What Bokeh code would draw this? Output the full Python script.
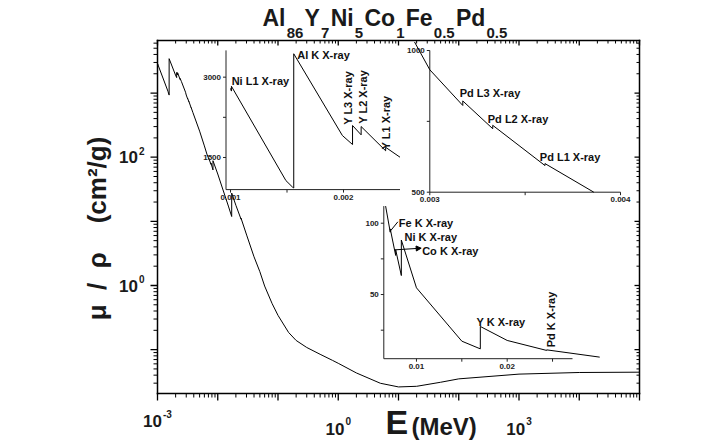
import numpy as np
from bokeh.plotting import figure
from bokeh.models import Range1d, LogScale, Arrow, NormalHead
from bokeh.core.properties import value
from bokeh.embed import file_html
from bokeh.resources import INLINE

# ---------------- data ----------------
energy_MeV = [
    0.0010, 0.0010081, 0.0010081, 0.00149, 0.00155, 0.0015596, 0.0015596,
    0.00199, 0.00208, 0.00208, 0.002156, 0.002156, 0.002373, 0.002373, 0.0025,
    0.00292, 0.0030, 0.003173, 0.003173, 0.00333, 0.00333, 0.003604, 0.003604, 0.00386,
    0.0050, 0.0060, 0.0066, 0.007112, 0.007112, 0.007709, 0.007709, 0.008333, 0.008333,
    0.010, 0.015, 0.01704, 0.01704, 0.020, 0.02435, 0.02435, 0.0302,
    0.040, 0.050, 0.060, 0.080, 0.10, 0.15, 0.20, 0.30, 0.50, 0.80, 1.0, 2.0, 5.0,
    10.0, 20.0, 50.0, 100.0, 1000.0, 10000.0, 100000.0]
mu_rho = [
    2790, 2740, 2830, 1069, 944, 930, 3437,
    1910, 1742, 2097, 1923, 2078, 1625, 1690, 1505,
    1030, 932, 806, 822, 724, 736, 594, 601, 500,
    255, 150, 112, 93.7, 96.0, 77.4, 81.4, 63.3, 88.2,
    54.7, 17.3, 11.9, 27.6, 17.8, 10.8, 11.2, 6.1,
    2.8, 1.64, 0.98, 0.52, 0.342, 0.185, 0.139, 0.108, 0.0846, 0.0681, 0.0612, 0.0433, 0.0299,
    0.0262, 0.0268, 0.031, 0.035, 0.0415, 0.044, 0.0445]

title_parts = ["Al", "86", "Y", "7", "Ni", "5", "Co", "1", "Fe", "0.5", "Pd", "0.5"]
x_label_main, x_label_unit = "E", "(MeV)"
NB = "\u00a0"
y_label = f"\u03bc{NB}{NB}/{NB}{NB}\u03c1{NB}{NB}{NB}{NB}(cm\u00b2/g)"

x_lim_main = (1e-3, 1e5)
y_lim_main = (0.0207, 6600)
x_major_ticks = [10.0 ** k for k in range(-3, 6)]
y_major_ticks = [10.0 ** k for k in range(-1, 4)]
x_minor_ticks = [m * 10.0 ** k for k in range(-3, 5) for m in range(2, 10)]
y_minor_ticks = [m * 10.0 ** k for k in range(-2, 4) for m in range(2, 10)
                 if y_lim_main[0] < m * 10.0 ** k < y_lim_main[1]]
x_tick_labels = [(1e-3, "-3"), (1e0, "0"), (1e3, "3")]
y_tick_labels = [(1e2, "2"), (1e0, "0")]

inset1_xlim, inset1_ylim = (0.00096, 0.0025), (900, 3500)
inset1_xticks, inset1_yticks = [0.001, 0.0015, 0.002], [1500, 2250, 3000]
inset1_xlabels, inset1_ylabels = {0.001: "0.001", 0.002: "0.002"}, {1500: "1500", 3000: "3000"}
inset1_window = (0.00096, 0.0025)

inset2_xlim, inset2_ylim = (0.003, 0.004), (500, 1000)
inset2_xticks, inset2_yticks = [0.003, 0.0035, 0.004], [500, 750, 1000]
inset2_xlabels, inset2_ylabels = {0.003: "0.003", 0.004: "0.004"}, {500: "500", 1000: "1000"}
inset2_window = (0.0029, 0.004)

inset3_xlim, inset3_ylim = (0.0064, 0.0272), (5, 112)
inset3_xticks, inset3_yticks = [0.01, 0.015, 0.02, 0.025], [25, 50, 75, 100]
inset3_xlabels, inset3_ylabels = {0.01: "0.01", 0.02: "0.02"}, {50: "50", 100: "100"}
inset3_window = (0.0064, 0.031)

inset1_notes = [("Ni L1 X-ray", 0.00101, 2850, 0), ("Al K X-ray", 0.00159, 3350, 0),
                ("Y L3 X-ray", 0.002075, 2110, 90), ("Y L2 X-ray", 0.002208, 2130, 90),
                ("Y L1 X-ray", 0.002407, 1650, 90)]
inset2_notes = [("Pd L3 X-ray", 0.003157, 836, 0), ("Pd L2 X-ray", 0.003304, 745, 0),
                ("Pd L1 X-ray", 0.003577, 611, 0)]
inset3_notes = [("Fe K X-ray", 0.00805, 97.7, 0), ("Ni K X-ray", 0.00868, 87.9, 0),
                ("Co K X-ray", 0.01063, 78.0, 0), ("Y K X-ray", 0.01662, 28.2, 0),
                ("Pd K X-ray", 0.02521, 13.0, 90)]

# ---------------- layout (reference page pixels, origin top-left) ----------------
FONT = "Liberation Sans"
W, H = 700, 440
BOX = (157, 639, 40, 393)          # main frame: left, right, top, bottom
MID = 0.35                          # baseline -> middle of text, in font sizes


def Y(py):                          # page y (down) -> canvas y (up)
    return H - py


def lin_range(lo, hi, plo, phi, c0, c1):
    s = (hi - lo) / (phi - plo)
    return (lo + (c0 - plo) * s, lo + (c1 - plo) * s)


def log_range(lo, hi, plo, phi, c0, c1):
    a, b = lin_range(np.log10(lo), np.log10(hi), plo, phi, c0, c1)
    return Range1d(10 ** a, 10 ** b)


p = figure(width=W, height=H, frame_width=W, frame_height=H, min_border=0,
           x_range=Range1d(0, W), y_range=Range1d(0, H),
           x_axis_type=None, y_axis_type=None, title=None,
           output_backend="svg", toolbar_location=None)
p.outline_line_color = None
p.background_fill_color = "white"
p.border_fill_color = "white"

p.extra_x_ranges = {"E": log_range(*x_lim_main, BOX[0], BOX[1], 0, W)}
p.extra_y_ranges = {"mu": log_range(*y_lim_main, Y(BOX[3]), Y(BOX[2]), 0, H)}
p.extra_x_scales = {"E": LogScale()}
p.extra_y_scales = {"mu": LogScale()}

inset_boxes = {
    "i1": (inset1_xlim, inset1_ylim, (225.5, 399.5), (189.1, 49.9)),
    "i2": (inset2_xlim, inset2_ylim, (429.3, 620.0), (191.7, 50.0)),
    "i3": (inset3_xlim, inset3_ylim, (383.3, 572.0), (358.2, 205.6)),
}
for name, (xl, yl, pxs, pys) in inset_boxes.items():
    p.extra_x_ranges[name + "x"] = Range1d(*lin_range(xl[0], xl[1], pxs[0], pxs[1], 0, W))
    p.extra_y_ranges[name + "y"] = Range1d(*lin_range(yl[0], yl[1], Y(pys[0]), Y(pys[1]), 0, H))

INK = "#1a1a1a"


def txt(x, y, t, size, align="left", baseline="middle", angle=0.0, bold=True,
        color=INK, **kw):
    p.text(x=x, y=y, text=t, angle=angle, text_align=align, text_baseline=baseline,
           text_font=value(FONT), text_font_size=f"{size}px",
           text_font_style="bold" if bold else "normal", text_color=color, **kw)


# ---------------- main frame and ticks ----------------
mk = dict(x_range_name="E", y_range_name="mu")
x0, x1 = x_lim_main
y0, y1 = y_lim_main
p.segment(x0=[x0, x0, x0, x1], y0=[y0, y1, y0, y0], x1=[x1, x1, x0, x1], y1=[y0, y1, y1, y1],
          line_color="black", line_width=1.5, line_cap="square", **mk)
for ticks, ln_out, ln_in, w in ((x_major_ticks, 7, 5, 1.3), (x_minor_ticks, 4, 3, 1)):
    n = len(ticks)
    p.ray(x=ticks, y=[y0] * n, length=ln_out, angle=-np.pi / 2, length_units="screen",
          line_color="black", line_width=w, **mk)
    p.ray(x=ticks, y=[y1] * n, length=ln_in, angle=-np.pi / 2, length_units="screen",
          line_color="black", line_width=w, **mk)
for ticks, ln_out, ln_in, w in ((y_major_ticks, 7, 5, 1.3), (y_minor_ticks, 4, 3, 1)):
    n = len(ticks)
    p.ray(x=[x0] * n, y=ticks, length=ln_out, angle=np.pi, length_units="screen",
          line_color="black", line_width=w, **mk)
    p.ray(x=[x1] * n, y=ticks, length=ln_in, angle=np.pi, length_units="screen",
          line_color="black", line_width=w, **mk)

# main tick labels: "10" + raised exponent (positions given as text baselines)
S10, SEX = 17, 10
for val, ex in x_tick_labels:
    base_py, exp_py = (426.5, 416.5) if val < 1e-2 else (434.5, 424.0)
    w10, wex = 1.112 * S10, (0.889 if ex.startswith("-") else 0.556) * SEX
    left = -(w10 + wex + 1) / 2
    txt([val], [Y(base_py - MID * S10)], ["10"], S10, align="right", x_offset=left + w10,
        x_range_name="E")
    txt([val], [Y(exp_py - MID * SEX)], [ex], SEX, align="left", x_offset=left + w10 + 1,
        x_range_name="E")
for val, ex in y_tick_labels:
    txt([137.5], [val], ["10"], S10, align="right", y_offset=6 - MID * S10,
        y_range_name="mu")
    txt([138.5], [val], [ex], SEX, align="left", y_offset=-3 - MID * SEX,
        y_range_name="mu")

# ---------------- main curve ----------------
E = np.array(energy_MeV)
M = np.array(mu_rho)
p.line(E, M, line_color="black", line_width=1, **mk)

# ---------------- insets ----------------
AX = "#222222"
SN = 11
inset_specs = {
    "i1": (inset1_xticks, inset1_yticks, inset1_xlabels, inset1_ylabels, inset1_window, inset1_notes),
    "i2": (inset2_xticks, inset2_yticks, inset2_xlabels, inset2_ylabels, inset2_window, inset2_notes),
    "i3": (inset3_xticks, inset3_yticks, inset3_xlabels, inset3_ylabels, inset3_window, inset3_notes),
}
for name, (xt, yt, xlab, ylab, win, notes) in inset_specs.items():
    xl, yl = inset_boxes[name][0], inset_boxes[name][1]
    kw = dict(x_range_name=name + "x", y_range_name=name + "y")
    p.segment(x0=[xl[0], xl[0]], y0=[yl[0], yl[0]], x1=[xl[1], xl[0]], y1=[yl[0], yl[1]],
              line_color=AX, line_width=1, **kw)
    p.ray(x=xt, y=[yl[0]] * len(xt), length=3, angle=-np.pi / 2, length_units="screen",
          line_color=AX, line_width=1, **kw)
    p.ray(x=[xl[0]] * len(yt), y=yt, length=3, angle=np.pi, length_units="screen",
          line_color=AX, line_width=1, **kw)
    txt(list(xlab.keys()), [yl[0]] * len(xlab), list(xlab.values()), 8,
        align="center", baseline="top", y_offset=5, color=AX, **kw)
    txt([xl[0]] * len(ylab), list(ylab.keys()), list(ylab.values()), 8,
        align="right", baseline="middle", x_offset=-5, color=AX, **kw)
    mask = (E >= win[0]) & (E <= win[1])
    p.line(E[mask], M[mask], line_color="black", line_width=1, **kw)
    for t, nx, ny, ang in notes:
        if ang:
            txt([nx], [ny], [t], SN, angle=np.deg2rad(ang), x_offset=-MID * SN,
                color="#111111", **kw)
        else:
            txt([nx], [ny], [t], SN, y_offset=-MID * SN, color="#111111", **kw)

p.add_layout(Arrow(x_start=0.00712, y_start=94.5, x_end=0.00795, y_end=101.0,
                   x_range_name="i3x", y_range_name="i3y", end=None,
                   line_color="black", line_width=1))
p.add_layout(Arrow(x_start=0.00757, y_start=81.3, x_end=0.01052, y_end=82.5,
                   x_range_name="i3x", y_range_name="i3y",
                   end=NormalHead(size=5, fill_color="black", line_color="black"),
                   line_color="black", line_width=1))

# ---------------- titles ----------------
SE, SU = 34, 24
txt([385], [Y(433.5 - MID * SE)], [x_label_main], SE)
txt([411], [Y(434.0 - MID * SU)], [x_label_unit], SU)
txt([96], [Y(228)], [y_label], 26, align="center", angle=np.pi / 2)

widths = {"A": .722, "l": .278, "Y": .667, "N": .722, "i": .278, "C": .722, "o": .611,
          "F": .611, "e": .556, "P": .667, "d": .611, ".": .278}
MS, SS = 23, 15
cx = 262.0
for i, part in enumerate(title_parts):
    sub = i % 2 == 1
    size = SS if sub else MS
    base = 37.5 if sub else 25.5
    txt([cx], [Y(base - MID * size)], [part], size)
    cx += sum(widths.get(c, .556) for c in part) * size + 1.2

open("out.html", "w").write(file_html(p, INLINE))
